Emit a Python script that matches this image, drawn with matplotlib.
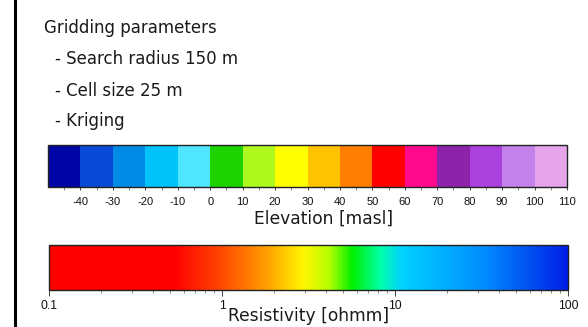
import matplotlib
matplotlib.use("Agg")
import matplotlib.pyplot as plt
import matplotlib as mpl
from matplotlib.colors import ListedColormap, BoundaryNorm, LinearSegmentedColormap, LogNorm
from matplotlib.ticker import FixedLocator, NullFormatter

# ---- data ----
param_lines = ["Gridding parameters", "- Search radius 150 m", "- Cell size 25 m", "- Kriging"]
elev_bounds = [-50, -40, -30, -20, -10, 0, 10, 20, 30, 40, 50, 60, 70, 80, 90, 100, 110]
elev_ticks = [-40, -30, -20, -10, 0, 10, 20, 30, 40, 50, 60, 70, 80, 90, 100, 110]
elev_colors = ["#0005a6", "#0a48d8", "#008ce6", "#00c3fa", "#50e6ff", "#1ed200",
               "#affa1e", "#ffff00", "#ffc300", "#ff7d00", "#ff0000", "#ff0a8c",
               "#8c23aa", "#aa41dc", "#c382eb", "#e6a5eb"]
elev_label = "Elevation [masl]"
res_range = [0.1, 100]
res_ticks = [0.1, 1, 10, 100]
res_ticklabels = ["0.1", "1", "10", "100"]
res_stops = [0.0, 0.24, 0.33, 0.42, 0.49, 0.54, 0.585, 0.64, 0.68, 0.84, 1.0]
res_stop_colors = ["#ff0000", "#ff0000", "#ff4600", "#ffa000", "#fff500", "#b4ff00",
                   "#00f000", "#00ffaa", "#00d2ff", "#008cff", "#001ee6"]
res_label = "Resistivity [ohmm]"

W, H = 588, 327
fig = plt.figure(figsize=(W / 100, H / 100), dpi=100)
fig.patch.set_facecolor("white")

def px_axes(x0, y0, x1, y1):
    return fig.add_axes([x0 / W, 1 - y1 / H, (x1 - x0) / W, (y1 - y0) / H])

# left vertical rule
fig.add_artist(plt.Line2D([14.5 / W, 14.5 / W], [0, 1], color="black", lw=2.2,
                          transform=fig.transFigure))

# text block
text_font = "DejaVu Sans"
baselines = [33, 64, 96, 126]
xs = [44, 55, 55, 55]
for t, x, y in zip(param_lines, xs, baselines):
    fig.text(x / W, 1 - y / H, t, fontsize=12.0, family=text_font, va="baseline", ha="left",
             color="#1a1a1a")

# elevation colorbar
cax1 = px_axes(48, 145, 567, 187)
cmap1 = ListedColormap(elev_colors)
norm1 = BoundaryNorm(elev_bounds, cmap1.N)
cb1 = mpl.colorbar.ColorbarBase(cax1, cmap=cmap1, norm=norm1, orientation="horizontal",
                                boundaries=elev_bounds, ticks=elev_ticks, spacing="uniform")
cb1.outline.set_linewidth(1.0)
cb1.outline.set_edgecolor("#222222")
cax1.tick_params(axis="x", length=2.5, width=0.6, pad=5, labelsize=8, colors="#222222",
                 labelcolor="#111111")
cax1.set_xticklabels([str(v) for v in elev_ticks], family="Liberation Sans")
cax1.xaxis.set_minor_locator(FixedLocator([v + 5 for v in elev_bounds[:-1]]))
cax1.tick_params(axis="x", which="minor", length=2, width=0.5, colors="#555555")
fig.text(324 / W, 1 - 219 / H, elev_label, fontsize=12.3, family=text_font, ha="center",
         va="center", color="#1a1a1a")

# resistivity colorbar
cax2 = px_axes(49, 245, 568, 290)
cmap2 = LinearSegmentedColormap.from_list("res", list(zip(res_stops, res_stop_colors)), N=256)
norm2 = LogNorm(vmin=res_range[0], vmax=res_range[1])
cb2 = mpl.colorbar.ColorbarBase(cax2, cmap=cmap2, norm=norm2, orientation="horizontal")
cb2.outline.set_linewidth(1.0)
cb2.outline.set_edgecolor("#222222")
cb2.set_ticks(res_ticks)
cb2.set_ticklabels(res_ticklabels)
minors = []
for d in [0.1, 1, 10]:
    minors += [d * k for k in range(2, 10)]
cax2.xaxis.set_minor_locator(FixedLocator(minors))
cax2.xaxis.set_minor_formatter(NullFormatter())
cax2.tick_params(axis="x", which="major", length=4, width=0.6, pad=3, labelsize=8.8,
                 colors="#222222", labelcolor="#111111")
cax2.tick_params(axis="x", which="minor", length=2, width=0.5, colors="#555555")
for lab in cax2.get_xticklabels():
    lab.set_family("Liberation Sans")
fig.text(309 / W, 1 - 316 / H, res_label, fontsize=12.3, family=text_font, ha="center",
         va="center", color="#1a1a1a")

fig.savefig("out.png", dpi=100, facecolor="white")
